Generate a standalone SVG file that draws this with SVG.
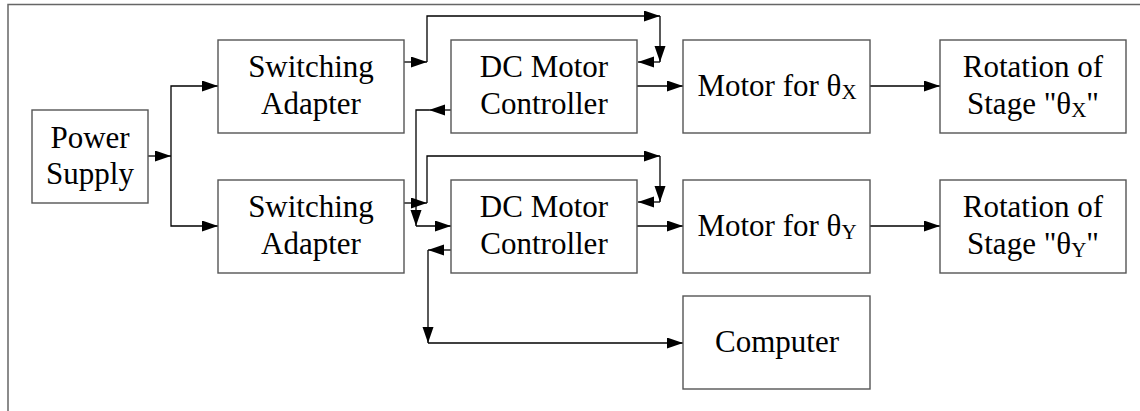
<svg xmlns="http://www.w3.org/2000/svg" width="1140" height="411" viewBox="0 0 1140 411">
<style>
.box{fill:#fff;stroke:#555;stroke-width:1.4}
.t{font-family:"Liberation Serif","Times New Roman",serif;font-size:31px;fill:#000;text-anchor:middle}
.s{font-size:21px}
.c{fill:none;stroke:#000;stroke-width:1.3}
.frame{fill:none;stroke:#666;stroke-width:1.5}
</style>
<defs>
<marker id="ah" markerUnits="userSpaceOnUse" markerWidth="17" markerHeight="12" refX="16" refY="5.5" orient="auto">
<path d="M0,0 L16,5.5 L0,11 z" fill="#000"/>
</marker>
</defs>
<rect width="1140" height="411" fill="#fff"/>
<path class="frame" d="M8,411 V4.5 H1140"/>
<g id="connectors">
<path class="c" d="M148,156 H171" marker-end="url(#ah)"/>
<path class="c" d="M171,156 V86 H218" marker-end="url(#ah)"/>
<path class="c" d="M171,156 V226 H218" marker-end="url(#ah)"/>
<path class="c" d="M404,62 H427" marker-end="url(#ah)"/>
<path class="c" d="M427,62 V16 H660" marker-end="url(#ah)"/>
<path class="c" d="M660,16 V62" marker-end="url(#ah)"/>
<path class="c" d="M660,62 H638" marker-end="url(#ah)"/>
<path class="c" d="M451,110 H429" marker-end="url(#ah)"/>
<path class="c" d="M429,110 H416 V226" marker-end="url(#ah)"/>
<path class="c" d="M416,226 H451" marker-end="url(#ah)"/>
<path class="c" d="M404,203 H427" marker-end="url(#ah)"/>
<path class="c" d="M427,203 V156 H660" marker-end="url(#ah)"/>
<path class="c" d="M660,156 V202" marker-end="url(#ah)"/>
<path class="c" d="M660,202 H638" marker-end="url(#ah)"/>
<path class="c" d="M451,250 H428" marker-end="url(#ah)"/>
<path class="c" d="M428,250 V343" marker-end="url(#ah)"/>
<path class="c" d="M428,343 H683" marker-end="url(#ah)"/>
<path class="c" d="M637,86 H683" marker-end="url(#ah)"/>
<path class="c" d="M637,226 H683" marker-end="url(#ah)"/>
<path class="c" d="M870,86 H940" marker-end="url(#ah)"/>
<path class="c" d="M870,226 H940" marker-end="url(#ah)"/>
</g>
<g id="power">
<rect class="box" x="32" y="110" width="116" height="93"/>
<text class="t" x="90" y="148">Power</text>
<text class="t" x="90" y="184">Supply</text>
</g>
<g id="adapter1">
<rect class="box" x="218" y="40" width="186" height="93"/>
<text class="t" x="311" y="77">Switching</text>
<text class="t" x="311" y="114">Adapter</text>
</g>
<g id="adapter2">
<rect class="box" x="218" y="180" width="186" height="93"/>
<text class="t" x="311" y="217">Switching</text>
<text class="t" x="311" y="254">Adapter</text>
</g>
<g id="controller1">
<rect class="box" x="451" y="40" width="186" height="93"/>
<text class="t" x="544" y="77">DC Motor</text>
<text class="t" x="544" y="114">Controller</text>
</g>
<g id="controller2">
<rect class="box" x="451" y="180" width="186" height="93"/>
<text class="t" x="544" y="217">DC Motor</text>
<text class="t" x="544" y="254">Controller</text>
</g>
<g id="motorX">
<rect class="box" x="683" y="40" width="187" height="93"/>
<text class="t" x="777" y="96">Motor for θ<tspan class="s" dy="3">X</tspan></text>
</g>
<g id="motorY">
<rect class="box" x="683" y="180" width="187" height="93"/>
<text class="t" x="777" y="236">Motor for θ<tspan class="s" dy="3">Y</tspan></text>
</g>
<g id="computer">
<rect class="box" x="683" y="296" width="187" height="93"/>
<text class="t" x="777" y="352">Computer</text>
</g>
<g id="rotX">
<rect class="box" x="940" y="40" width="186" height="93"/>
<text class="t" x="1033" y="77">Rotation of</text>
<text class="t" x="1033" y="114">Stage "θ<tspan class="s" dy="3">X</tspan><tspan dy="-3">"</tspan></text>
</g>
<g id="rotY">
<rect class="box" x="940" y="180" width="186" height="93"/>
<text class="t" x="1033" y="217">Rotation of</text>
<text class="t" x="1033" y="254">Stage "θ<tspan class="s" dy="3">Y</tspan><tspan dy="-3">"</tspan></text>
</g>
</svg>
